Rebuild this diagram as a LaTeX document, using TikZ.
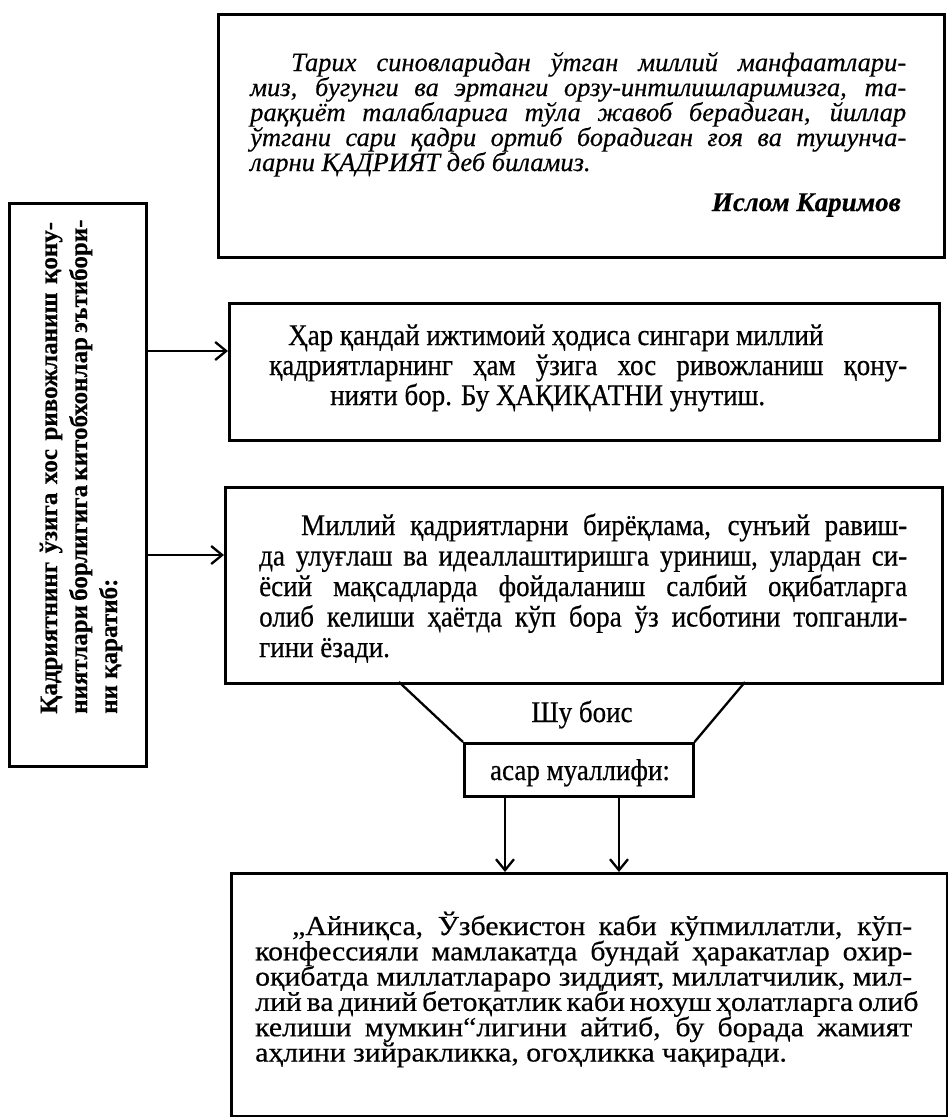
\documentclass[tikz,border=0pt]{standalone}
\usepackage{fontspec}
\setmainfont{Liberation Serif}[FakeBold=0.4]
\newfontfamily\cond{Liberation Serif}[FakeStretch=0.9,FakeBold=0.5]
\newfontfamily\wide{Liberation Serif}[FakeStretch=1.08,FakeBold=0.5]
\usetikzlibrary{arrows.meta}
\newcommand{\jl}[1]{\makebox[\linewidth][s]{#1}\\}
\begin{document}
\begin{tikzpicture}[x=1pt,y=-1pt,
  box/.style={draw, line width=2.5pt, inner sep=0pt, anchor=north west},
  edge/.style={line width=2.3pt},
  conn/.style={line width=2.3pt, -{Straight Barb[length=11pt,width=18pt,line width=2.3pt]}},
  txt/.style={inner sep=0pt, anchor=base west},
]
\useasboundingbox (0,0) rectangle (948,1117);

% boxes
\node[box, minimum width=726pt, minimum height=243pt] (top) at (217,13) {};
\node[box, minimum width=137pt, minimum height=563pt] (lbox) at (8,202) {};
\node[box, minimum width=710pt, minimum height=137pt] (b2) at (228,302) {};
\node[box, minimum width=717pt, minimum height=196pt] (b3) at (224,486) {};
\node[box, minimum width=229pt, minimum height=53pt] (sb) at (463,742) {};
\node[box, minimum width=716pt, minimum height=243pt] (bb) at (230,872) {};

% top quote
\node[txt] (quote) at (250,71) {\parbox[t]{656pt}{\fontsize{26.5}{25}\selectfont\itshape\lineskiplimit=-100pt
\jl{\hspace*{41pt}Тарих синовларидан ўтган миллий манфаатлари-}
\jl{миз, бугунги ва эртанги орзу-интилишларимизга, та-}
\jl{раққиёт талабларига тўла жавоб берадиган, йиллар}
\jl{ўтгани сари қадри ортиб борадиган ғоя ва тушунча-}
ларни ҚАДРИЯТ деб биламиз.}};
\node[inner sep=0pt, anchor=base east] (author) at (901,211) {\fontsize{27}{27}\selectfont\bfseries\itshape Ислом Каримов};

% left rotated text
\node[rotate=90, inner sep=0pt, anchor=base west] (ltext) at (57,714) {\parbox[t]{492pt}{\fontsize{25}{30}\selectfont\bfseries\lineskiplimit=-100pt
\jl{Қадриятнинг ўзига хос ривожланиш қону-}
\jl{ниятлари борлигига китобхонлар эътибори-}
ни қаратиб:}};

% box 2 text
\node[txt] (t2) at (269,345) {\parbox[t]{640pt}{\cond\fontsize{30}{30}\selectfont\lineskiplimit=-100pt
\hspace*{19pt}Ҳар қандай ижтимоий ҳодиса сингари миллий\\
\makebox[638pt][s]{қадриятларнинг ҳам ўзига хос ривожланиш қону-}\\
\hspace*{61pt}нияти бор. Бу ҲАҚИҚАТНИ унутиш.}};

% box 3 text
\node[txt] (t3) at (259,535) {\parbox[t]{648pt}{\cond\fontsize{30}{30.5}\selectfont\lineskiplimit=-100pt
\jl{\hspace*{42pt}Миллий қадриятларни бирёқлама, сунъий равиш-}
\jl{да улуғлаш ва идеаллаштиришга уриниш, улардан си-}
\jl{ёсий мақсадларда фойдаланиш салбий оқибатларга}
\jl{олиб келиши ҳаётда кўп бора ўз исботини топганли-}
гини ёзади.}};

% funnel
\coordinate (fl) at (399,682);
\coordinate (fr) at (745,682);
\draw[edge] (fl) -- (sb.north west);
\draw[edge] (fr) -- (sb.north east);
\node[inner sep=0pt, anchor=base] (shu) at (582,722) {\cond\fontsize{30}{30}\selectfont Шу боис};
\node[inner sep=0pt, anchor=base] (asar) at (580,780) {\cond\fontsize{30}{30}\selectfont асар муаллифи:};

% bottom text
\node[txt] (t4) at (255,935) {\parbox[t]{657pt}{\wide\fontsize{27.5}{25.3}\selectfont\lineskiplimit=-100pt
\jl{\hspace*{37pt}„Айниқса, Ўзбекистон каби кўпмиллатли, кўп-}
\jl{конфессияли мамлакатда бундай ҳаракатлар охир-}
\jl{оқибатда миллатлараро зиддият, миллатчилик, мил-}
\jl{лий ва диний бетоқатлик каби нохуш ҳолатларга олиб}
\jl{келиши мумкин“лигини айтиб, бу борада жамият}
аҳлини зийракликка, огоҳликка чақиради.}};

% connectors
\coordinate (a1) at (145,351);
\coordinate (a2) at (145,555);
\draw[conn] (a1) -- (a1 -| b2.west);
\draw[conn] (a2) -- (a2 -| b3.west);
\coordinate (d1) at (505,795);
\coordinate (d2) at (619,795);
\draw[conn] (d1) -- (d1 |- bb.north);
\draw[conn] (d2) -- (d2 |- bb.north);
\end{tikzpicture}
\end{document}
